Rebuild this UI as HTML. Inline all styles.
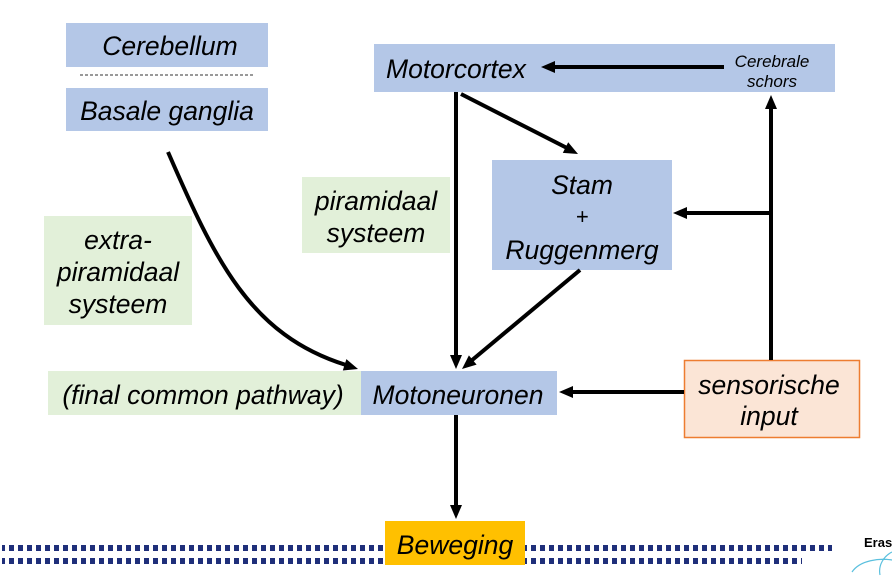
<!DOCTYPE html>
<html><head><meta charset="utf-8"><style>
html,body{margin:0;padding:0;background:#fff;}
svg{display:block;}
text{font-family:"Liberation Sans",sans-serif;font-style:italic;fill:#000;}
</style></head><body>
<svg width="892" height="580" viewBox="0 0 892 580" xmlns="http://www.w3.org/2000/svg">
<defs>
<pattern id="dots" x="0" y="0" width="9" height="6" patternUnits="userSpaceOnUse">
<rect x="0" y="0" width="5" height="6" fill="#1f2f7a"/></pattern>
</defs>
<rect x="2" y="545" width="830" height="6" fill="url(#dots)"/>
<rect x="2" y="558" width="800" height="6" fill="url(#dots)"/>

<rect x="66" y="23" width="202" height="44" fill="#b4c7e7"/>
<text x="170" y="55" font-size="26.5" text-anchor="middle">Cerebellum</text>
<line x1="80" y1="75" x2="253" y2="75" stroke="#333" stroke-width="1" stroke-dasharray="3,2"/>
<rect x="66" y="88" width="202" height="43" fill="#b4c7e7"/>
<text x="167" y="120" font-size="26.5" text-anchor="middle">Basale ganglia</text>

<rect x="374" y="44" width="461" height="48" fill="#b4c7e7"/>
<text x="386" y="78" font-size="26.5">Motorcortex</text>
<text x="772" y="67" font-size="17" text-anchor="middle">Cerebrale</text>
<text x="772" y="87" font-size="17" text-anchor="middle">schors</text>

<rect x="492" y="160" width="180" height="110" fill="#b4c7e7"/>
<text x="582" y="194" font-size="26.5" text-anchor="middle">Stam</text>
<text x="582" y="224" font-size="22" text-anchor="middle">+</text>
<text x="582" y="259" font-size="26.5" text-anchor="middle">Ruggenmerg</text>

<rect x="302" y="177" width="148" height="76" fill="#e2f0d9"/>
<text x="376" y="210" font-size="26.5" text-anchor="middle">piramidaal</text>
<text x="376" y="242" font-size="26.5" text-anchor="middle">systeem</text>

<rect x="44" y="216" width="148" height="109" fill="#e2f0d9"/>
<text x="118" y="249" font-size="26.5" text-anchor="middle">extra-</text>
<text x="118" y="281" font-size="26.5" text-anchor="middle">piramidaal</text>
<text x="118" y="313" font-size="26.5" text-anchor="middle">systeem</text>

<rect x="48" y="371" width="313" height="44" fill="#e2f0d9"/>
<text x="203" y="404" font-size="26.5" text-anchor="middle">(final common pathway)</text>
<rect x="361" y="371" width="196" height="44" fill="#b4c7e7"/>
<text x="458" y="404" font-size="26.5" text-anchor="middle">Motoneuronen</text>

<rect x="684.5" y="360.5" width="175" height="77" fill="#fbe5d6" stroke="#ed7d31" stroke-width="1.5"/>
<text x="769" y="394" font-size="26.5" text-anchor="middle">sensorische</text>
<text x="769" y="425" font-size="26.5" text-anchor="middle">input</text>

<rect x="385" y="521" width="140" height="44" fill="#ffc000"/>
<text x="455" y="554" font-size="26.5" text-anchor="middle">Beweging</text>

<g stroke="#000" stroke-width="4" fill="none">
<line x1="456" y1="92" x2="456" y2="357"/>
<line x1="461" y1="94" x2="567" y2="148"/>
<line x1="580" y1="270" x2="471" y2="361"/>
<path d="M168,152 C215,260 250,335 346,365"/>
<line x1="684" y1="392" x2="571" y2="392"/>
<line x1="771" y1="360" x2="771" y2="107"/>
<line x1="771" y1="213" x2="685" y2="213"/>
<line x1="724" y1="67" x2="553" y2="67"/>
<line x1="456" y1="415" x2="456" y2="507"/>
</g>
<g fill="#000">
<polygon points="456,369 450,355 462,355"/>
<polygon points="578,154 562.8,152.9 568.2,142.3"/>
<polygon points="462,369 468.9,355.4 476.6,364.6"/>
<polygon points="358,369 342.8,370.5 346.4,359.1"/>
<polygon points="559,392 573,386 573,398"/>
<polygon points="771,95 765,109 777,109"/>
<polygon points="673,213 687,207 687,219"/>
<polygon points="541,67 555,61 555,73"/>
<polygon points="456,519 450,505 462,505"/>
</g>
<text x="864" y="547" font-size="13" font-weight="bold" fill="#1f2f5a" style="font-style:normal">Eras</text>
<path d="M852,572 C860,560 880,558 892,560 M880,575 C878,565 884,556 892,552" stroke="#5bc0de" stroke-width="1.2" fill="none"/>
</svg>
</body></html>
